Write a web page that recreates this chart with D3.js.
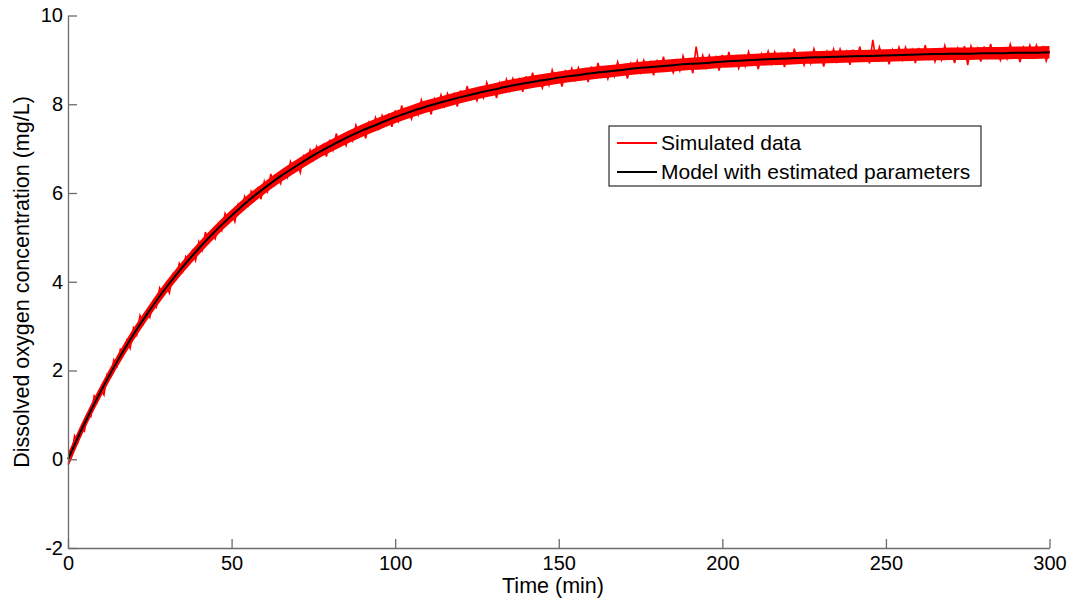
<!DOCTYPE html>
<html>
<head>
<meta charset="utf-8">
<script src="https://cdn.jsdelivr.net/npm/d3@7"></script>
<style>
  body { margin: 0; background: #fff; }
  svg { font-family: Arial, "Liberation Sans", sans-serif; }
</style>
</head>
<body>
<div id="container"></div>
<script>
// tick labels
const xTicks = [0, 50, 100, 150, 200, 250, 300];
const yTicks = [-2, 0, 2, 4, 6, 8, 10];

// simulated data, one reading per minute (0..300 min), mg/L
const simTime = d3.range(0, 301);
const simValues = [
  -0.12, 0.04, 0.53, 0.39, 0.68,
  0.63, 1.03, 0.96, 1.43, 1.33,
  1.59, 1.45, 1.92, 1.86, 2.24,
  2.10, 2.48, 2.40, 2.68, 2.50,
  2.96, 2.80, 3.24, 3.05, 3.29,
  3.19, 3.54, 3.43, 3.86, 3.72,
  3.93, 3.75, 4.17, 4.07, 4.41,
  4.23, 4.57, 4.46, 4.69, 4.48,
  4.90, 4.71, 5.12, 4.89, 5.10,
  4.97, 5.29, 5.15, 5.54, 5.37,
  5.55, 5.35, 5.74, 5.62, 5.92,
  5.72, 6.04, 5.90, 6.10, 5.86,
  6.26, 6.04, 6.43, 6.18, 6.37,
  6.21, 6.51, 6.35, 6.71, 6.52,
  6.68, 6.46, 6.83, 6.69, 6.97,
  6.75, 7.05, 6.89, 7.08, 6.82,
  7.20, 6.97, 7.34, 7.07, 7.24,
  7.07, 7.35, 7.18, 7.53, 7.33,
  7.47, 7.23, 7.59, 7.43, 7.70,
  7.46, 7.75, 7.58, 7.76, 7.49,
  7.86, 7.62, 7.97, 7.70, 7.85,
  7.67, 7.94, 7.76, 8.10, 7.89,
  8.02, 7.77, 8.12, 7.95, 8.21,
  7.96, 8.24, 8.06, 8.23, 7.95,
  8.31, 8.06, 8.41, 8.12, 8.27,
  8.08, 8.35, 8.15, 8.49, 8.26,
  8.39, 8.14, 8.48, 8.31, 8.56,
  8.31, 8.58, 8.40, 8.56, 8.28,
  8.63, 8.37, 8.71, 8.43, 8.57,
  8.37, 8.63, 8.43, 8.77, 8.54,
  8.66, 8.40, 8.74, 8.56, 8.81,
  8.55, 8.82, 8.63, 8.79, 8.50,
  8.85, 8.59, 8.93, 8.63, 8.77,
  8.57, 8.83, 8.63, 8.95, 8.72,
  8.84, 8.58, 8.92, 8.73, 8.98,
  8.72, 8.99, 8.79, 8.95, 8.65,
  9.00, 8.74, 9.07, 8.78, 8.91,
  8.71, 8.97, 8.76, 9.09, 8.85,
  8.97, 8.70, 9.30, 8.85, 9.10,
  8.83, 9.10, 8.90, 9.06, 8.76,
  9.11, 8.84, 9.18, 8.88, 9.02,
  8.81, 9.06, 8.86, 9.18, 8.95,
  9.06, 8.79, 9.13, 8.94, 9.19,
  8.92, 9.18, 8.98, 9.14, 8.84,
  9.18, 8.92, 9.25, 8.95, 9.09,
  8.88, 9.13, 8.92, 9.25, 9.01,
  9.12, 8.85, 9.19, 9.00, 9.24,
  8.97, 9.24, 9.04, 9.19, 8.89,
  9.23, 8.97, 9.30, 9.00, 9.13,
  8.92, 9.45, 8.97, 9.29, 9.05,
  9.16, 8.90, 9.23, 9.04, 9.28,
  9.01, 9.28, 9.08, 9.23, 8.93,
  9.27, 9.00, 9.33, 9.03, 9.16,
  8.96, 9.21, 9.00, 9.32, 9.08,
  9.20, 8.93, 9.26, 9.07, 9.31,
  8.88, 9.31, 9.11, 9.26, 8.96,
  9.30, 9.03, 9.36, 9.06, 9.19,
  8.99, 9.24, 9.03, 9.35, 9.11,
  9.22, 8.95, 9.28, 9.09, 9.33,
  9.07, 9.33, 9.13, 9.28, 8.98,
  9.20
];

// spread of the simulated readings, every 5 min
const bandTime = d3.range(0, 301, 5);
const bandLow = [
  -0.18, 0.66, 1.39, 2.06, 2.67, 3.22, 3.73, 4.19, 4.61, 5.00,
  5.35, 5.68, 5.97, 6.24, 6.48, 6.71, 6.91, 7.10, 7.27, 7.42,
  7.57, 7.70, 7.82, 7.92, 8.02, 8.11, 8.19, 8.27, 8.34, 8.40,
  8.46, 8.51, 8.56, 8.60, 8.64, 8.68, 8.71, 8.74, 8.77, 8.79,
  8.82, 8.84, 8.86, 8.88, 8.89, 8.91, 8.92, 8.93, 8.94, 8.95,
  8.96, 8.97, 8.98, 8.99, 9.00, 9.00, 9.01, 9.01, 9.02, 9.02,
  9.03
];
const bandHigh = [
  0.14, 0.94, 1.67, 2.34, 2.95, 3.50, 4.01, 4.47, 4.89, 5.28,
  5.63, 5.96, 6.25, 6.52, 6.76, 6.99, 7.19, 7.38, 7.55, 7.70,
  7.85, 7.98, 8.10, 8.20, 8.30, 8.39, 8.47, 8.55, 8.62, 8.68,
  8.74, 8.79, 8.84, 8.88, 8.92, 8.96, 8.99, 9.02, 9.05, 9.07,
  9.10, 9.12, 9.14, 9.16, 9.17, 9.19, 9.20, 9.21, 9.22, 9.23,
  9.24, 9.25, 9.26, 9.27, 9.28, 9.28, 9.29, 9.29, 9.30, 9.30,
  9.31
];

// fitted model, every 5 min
const modelTime = d3.range(0, 301, 5);
const modelValues = [
  0.00, 0.80, 1.53, 2.20, 2.81, 3.36, 3.87, 4.33, 4.75, 5.14,
  5.49, 5.82, 6.11, 6.38, 6.62, 6.85, 7.05, 7.24, 7.41, 7.56,
  7.71, 7.84, 7.96, 8.06, 8.16, 8.25, 8.33, 8.41, 8.48, 8.54,
  8.60, 8.65, 8.70, 8.74, 8.78, 8.82, 8.85, 8.88, 8.91, 8.93,
  8.96, 8.98, 9.00, 9.02, 9.03, 9.05, 9.06, 9.07, 9.08, 9.09,
  9.10, 9.11, 9.12, 9.13, 9.14, 9.14, 9.15, 9.15, 9.16, 9.16,
  9.17
];

const legendLabels = ["Simulated data", "Model with estimated parameters"];
const legendColors = ["#ff0000", "#000000"];

const w = 1070;
const h = 601;
const mLeft = 68, mRight = 1049.5, mTop = 15.5, mBottom = 548;
const axisColor = "#6b6b6b";

const xScale = d3.scaleLinear().domain([0, 300]).range([mLeft, mRight]);
const yScale = d3.scaleLinear().domain([-2, 10]).range([mBottom, mTop]);

const svg = d3.select("#container")
  .append("svg")
  .attr("width", w)
  .attr("height", h);

// simulated data: dense band + individual readings
const band = d3.area()
  .x((d, i) => xScale(bandTime[i]))
  .y0((d, i) => yScale(bandLow[i]))
  .y1((d, i) => yScale(bandHigh[i]))
  .curve(d3.curveMonotoneX);

svg.append("path")
  .datum(bandLow)
  .attr("fill", legendColors[0])
  .attr("d", band);

const simLine = d3.line()
  .x((d, i) => xScale(simTime[i]))
  .y((d) => yScale(d));

svg.append("path")
  .datum(simValues)
  .attr("fill", "none")
  .attr("stroke", legendColors[0])
  .attr("stroke-width", 1.6)
  .attr("d", simLine);

// model
const modelLine = d3.line()
  .x((d, i) => xScale(modelTime[i]))
  .y((d) => yScale(d))
  .curve(d3.curveMonotoneX);

svg.append("path")
  .datum(modelValues)
  .attr("fill", "none")
  .attr("stroke", legendColors[1])
  .attr("stroke-width", 2)
  .attr("d", modelLine);

// axes (ticks point inwards)
const xAxis = svg.append("g")
  .attr("transform", "translate(0," + mBottom + ")")
  .call(d3.axisBottom(xScale).tickValues(xTicks).tickFormat((d) => String(d))
    .tickSizeInner(-9).tickSizeOuter(0).tickPadding(8));

const yAxis = svg.append("g")
  .attr("transform", "translate(" + mLeft + ",0)")
  .call(d3.axisLeft(yScale).tickValues(yTicks).tickFormat((d) => String(d))
    .tickSizeInner(-9).tickSizeOuter(0).tickPadding(5));

[xAxis, yAxis].forEach((g) => {
  g.select(".domain").attr("stroke", axisColor).attr("stroke-width", 1.3);
  g.selectAll(".tick line").attr("stroke", axisColor).attr("stroke-width", 1.3);
  g.selectAll(".tick text")
    .attr("fill", "#000")
    .style("font-size", "20px")
    .style("font-family", "Arial, 'Liberation Sans', sans-serif");
});

// axis labels
svg.append("text")
  .attr("x", 553)
  .attr("y", 593)
  .attr("text-anchor", "middle")
  .style("font-size", "21.5px")
  .text("Time (min)");

svg.append("text")
  .attr("transform", "translate(28.5,282) rotate(-90)")
  .attr("text-anchor", "middle")
  .style("font-size", "21.5px")
  .text("Dissolved oxygen concentration (mg/L)");

// legend
const legend = svg.append("g").attr("transform", "translate(609,126)");
legend.append("rect")
  .attr("width", 372)
  .attr("height", 60)
  .attr("fill", "#fff")
  .attr("stroke", "#000")
  .attr("stroke-width", 1);

legendLabels.forEach((label, i) => {
  const cy = 17 + i * 29;
  legend.append("line")
    .attr("x1", 8).attr("x2", 48)
    .attr("y1", cy).attr("y2", cy)
    .attr("stroke", legendColors[i])
    .attr("stroke-width", 2);
  legend.append("text")
    .attr("x", 52)
    .attr("y", cy + 7)
    .style("font-size", "21px")
    .text(label);
});
</script>
</body>
</html>
